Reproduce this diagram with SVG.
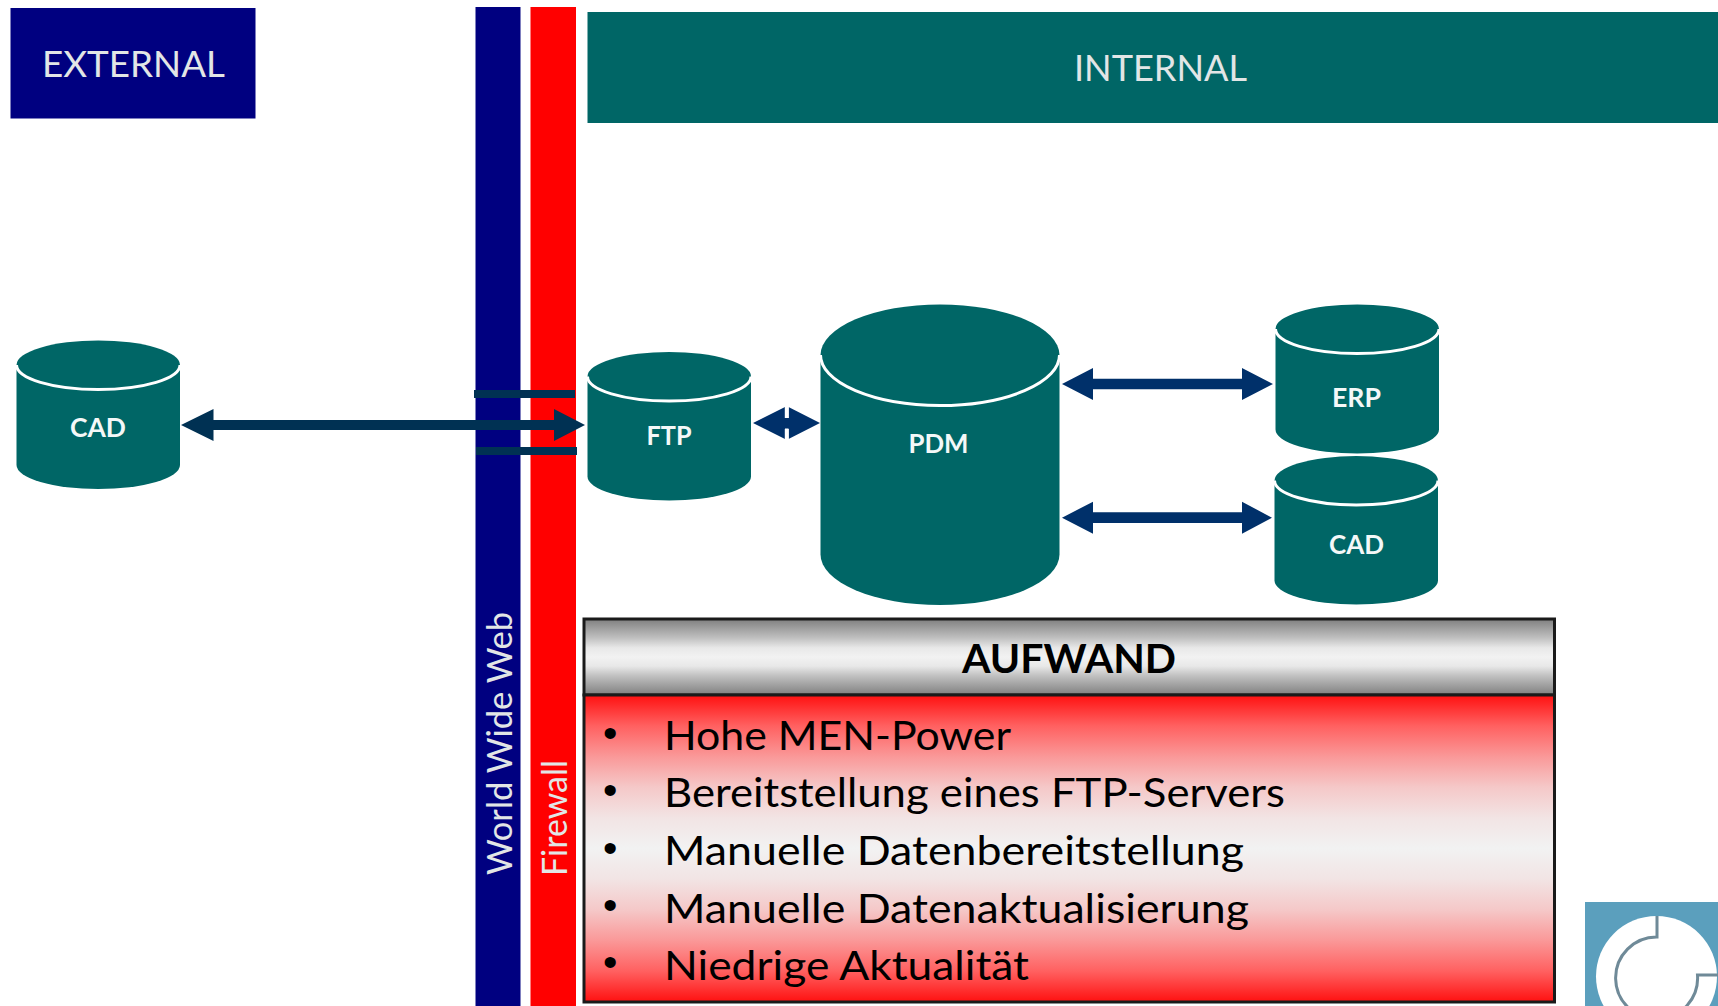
<svg xmlns="http://www.w3.org/2000/svg" width="1718" height="1006" viewBox="0 0 1718 1006">
<style>
text{font-family:Lato,"Liberation Sans",sans-serif}
.band{fill:#e2e6e6;font-size:36px}
.cyl{fill:#006666}
.rim{fill:none;stroke:#fff;stroke-width:3}
.cl{fill:#f4f8f8;font-size:27px;font-weight:700}
.item{fill:#000;font-size:41px}
.bul{fill:#000;font-size:41px;font-family:"Liberation Sans",sans-serif}
.frame{stroke:#1a1a1a;stroke-width:3}
.a1{fill:#003153}
.a2{fill:#00306a}
</style>
<defs>
<linearGradient id="gh" x1="0" y1="0" x2="0" y2="1"><stop offset="0" stop-color="#7f7f7f"/><stop offset=".25" stop-color="#c0c0c0"/><stop offset=".38" stop-color="#e8e8e8"/><stop offset=".5" stop-color="#f2f2f2"/><stop offset=".62" stop-color="#e8e8e8"/><stop offset=".75" stop-color="#c0c0c0"/><stop offset="1" stop-color="#7f7f7f"/></linearGradient>
<linearGradient id="gr" x1="0" y1="0" x2="0" y2="1"><stop offset="0" stop-color="#ff1010"/><stop offset=".1" stop-color="#ff6060"/><stop offset=".2" stop-color="#fa9898"/><stop offset=".3" stop-color="#f5c8c8"/><stop offset=".4" stop-color="#f2e4e4"/><stop offset=".5" stop-color="#f2f2f2"/><stop offset=".6" stop-color="#f2e4e4"/><stop offset=".7" stop-color="#f5c8c8"/><stop offset=".8" stop-color="#fa9898"/><stop offset=".9" stop-color="#ff6060"/><stop offset="1" stop-color="#ff1010"/></linearGradient>
</defs>
<rect width="1718" height="1006" fill="#fff"/>
<g id="external"><rect x="10.500" y="8" width="245" height="110.500" fill="#000080"/><text class="band" x="42" y="77" textLength="183" lengthAdjust="spacingAndGlyphs">EXTERNAL</text></g>
<g id="internal"><rect x="587.500" y="12" width="1130.500" height="111" fill="#006666"/><text class="band" x="1074" y="81" textLength="173" lengthAdjust="spacingAndGlyphs">INTERNAL</text></g>
<g id="www"><rect x="475.500" y="7" width="45" height="999" fill="#000080"/><text class="band" style="font-size:34px" transform="translate(511.500 875) rotate(-90)" textLength="263" lengthAdjust="spacingAndGlyphs">World Wide Web</text></g>
<g id="firewall"><rect x="530.500" y="7" width="45.500" height="999" fill="#ff0000"/><text class="band" style="font-size:34px" transform="translate(567 876) rotate(-90)" textLength="116" lengthAdjust="spacingAndGlyphs">Firewall</text></g>
<g id="cad-external"><path class="cyl" d="M16.500 365A81.750 24.500 0 0 1 180 365V465A81.750 24 0 0 1 16.500 465Z"/><path class="rim" d="M16.500 365A81.750 24.500 0 0 0 180 365"/><text class="cl" x="70" y="437" textLength="56" lengthAdjust="spacingAndGlyphs">CAD</text></g>
<g id="ftp"><path class="cyl" d="M587.500 376.500A81.750 24.500 0 0 1 751 376.500V476.500A81.750 24 0 0 1 587.500 476.500Z"/><path class="rim" d="M587.500 376.500A81.750 24.500 0 0 0 751 376.500"/><text class="cl" x="646.500" y="445" textLength="45" lengthAdjust="spacingAndGlyphs">FTP</text></g>
<g id="pdm"><path class="cyl" d="M820.500 355A119.500 50.500 0 0 1 1059.500 355V554.500A119.500 50.500 0 0 1 820.500 554.500Z"/><path class="rim" d="M820.500 355A119.500 50.500 0 0 0 1059.500 355"/><text class="cl" x="908.500" y="453" textLength="60" lengthAdjust="spacingAndGlyphs">PDM</text></g>
<g id="erp"><path class="cyl" d="M1275.500 329A81.750 24.500 0 0 1 1439 329V429.500A81.750 24 0 0 1 1275.500 429.500Z"/><path class="rim" d="M1275.500 329A81.750 24.500 0 0 0 1439 329"/><text class="cl" x="1332" y="406.500" textLength="49" lengthAdjust="spacingAndGlyphs">ERP</text></g>
<g id="cad-internal"><path class="cyl" d="M1274.500 480.500A81.750 24.500 0 0 1 1438 480.500V580.500A81.750 24 0 0 1 1274.500 580.500Z"/><path class="rim" d="M1274.500 480.500A81.750 24.500 0 0 0 1438 480.500"/><text class="cl" x="1329" y="554" textLength="55" lengthAdjust="spacingAndGlyphs">CAD</text></g>
<g id="connectors">
<rect class="a1" x="474" y="390" width="101" height="8"/>
<rect class="a1" x="476" y="447" width="101" height="8"/>
<path class="a1" d="M181 425L213.500 409V420H554V409L585 425L554 441V430H213.500V441Z"/>
<path class="a2" d="M753 423L785 407V418H788.500V407L820 423L788.500 439V428.500H785V439Z"/>
<path d="M786.800 407V418M786.800 429V439" stroke="#fff" stroke-width="4" fill="none"/>
<path class="a2" d="M1062 384L1093 368V378.700H1242V368L1273 384L1242 400V389.300H1093V400Z"/>
<path class="a2" d="M1062 517.700L1093 501.700V512.300H1242V501.700L1272 517.700L1242 533.700V523H1093V533.700Z"/>
</g>
<g id="aufwand">
<rect class="frame" x="584" y="619" width="970.500" height="76" fill="url(#gh)"/>
<rect class="frame" x="584" y="695" width="970.500" height="307" fill="url(#gr)"/>
<text x="962" y="673" style="font-size:40px;font-weight:700" fill="#000" textLength="214" lengthAdjust="spacingAndGlyphs">AUFWAND</text>
<text class="bul" x="603" y="747">•</text><text class="item" x="664" y="750" textLength="347" lengthAdjust="spacingAndGlyphs">Hohe MEN-Power</text>
<text class="bul" x="603" y="804">•</text><text class="item" x="664" y="807" textLength="621" lengthAdjust="spacingAndGlyphs">Bereitstellung eines FTP-Servers</text>
<text class="bul" x="603" y="862">•</text><text class="item" x="664" y="865" textLength="580" lengthAdjust="spacingAndGlyphs">Manuelle Datenbereitstellung</text>
<text class="bul" x="603" y="919">•</text><text class="item" x="664" y="923" textLength="585" lengthAdjust="spacingAndGlyphs">Manuelle Datenaktualisierung</text>
<text class="bul" x="603" y="976">•</text><text class="item" x="664" y="980" textLength="365" lengthAdjust="spacingAndGlyphs">Niedrige Aktualität</text>
</g>
<g id="logo">
<rect x="1585" y="902" width="133" height="104" fill="#5b9fbd"/>
<circle cx="1656.500" cy="976.500" r="60.500" fill="#fff"/>
<path d="M1657 916V937A41 41 0 1 0 1697.500 975H1718" fill="none" stroke="#6f8a98" stroke-width="3"/>
</g>
</svg>
